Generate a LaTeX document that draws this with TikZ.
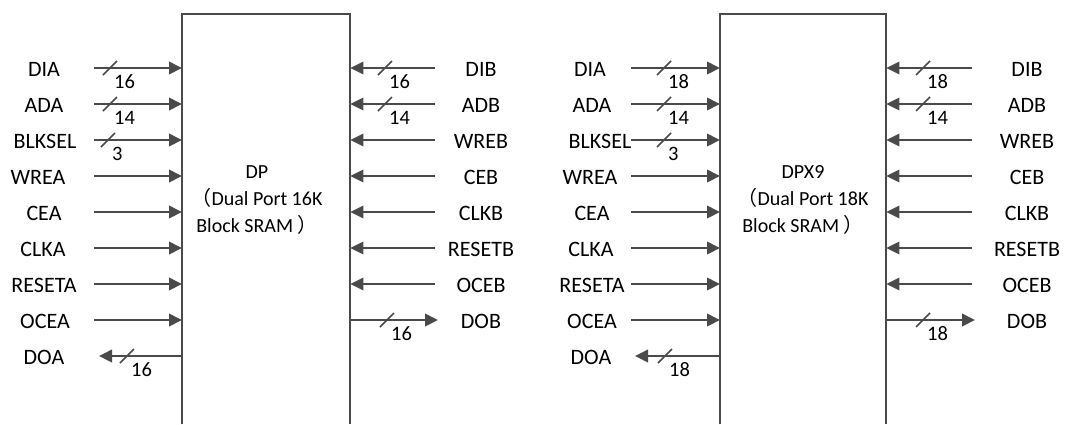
\documentclass[tikz,border=0pt]{standalone}
\usepackage{fontspec}
\setmainfont{Carlito}
\newfontfamily\cjk{Noto Sans CJK SC}
\usetikzlibrary{arrows.meta}
\definecolor{ln}{HTML}{4A4A4A}
\tikzset{
  pin/.style={draw=ln, line width=2pt, -{Triangle[length=13pt,width=12.5pt]}},
  busmark/.style={draw=ln, line width=1.7pt},
  boxline/.style={draw=ln, line width=2.1pt},
  lbl/.style={inner sep=0pt, anchor=base, font=\fontsize{22}{26}\selectfont},
  num/.style={inner sep=0pt, anchor=base west, font=\fontsize{20.5}{24}\selectfont},
  title/.style={inner sep=0pt, align=center, font=\fontsize{20}{27}\selectfont},
}
\begin{document}
\begin{tikzpicture}[x=1pt,y=-1pt]
\useasboundingbox (0,0) rectangle (1072,424);
% ---------- blocks ----------
\node[minimum width=168pt, minimum height=410pt, anchor=north west, inner sep=0pt] (boxA) at (182,14) {};
\node[minimum width=166pt, minimum height=410pt, anchor=north west, inner sep=0pt] (boxB) at (720,14) {};
\draw[boxline] (boxA.south west) -- (boxA.north west) -- (boxA.north east) -- (boxA.south east);
\draw[boxline] (boxB.south west) -- (boxB.north west) -- (boxB.north east) -- (boxB.south east);
\node[title] (tA) at (257,200) {DP\\{\cjk （}Dual Port 16K\\Block SRAM {\cjk ）}};
\node[title] (tB) at (803,200) {DPX9\\{\cjk （}Dual Port 18K\\Block SRAM {\cjk ）}};
% ---------- block A, left inputs ----------
\foreach \n/\y/\lx in {DIA/68/44, ADA/104/44, BLKSEL/140/45, WREA/176/38, CEA/212/44, CLKA/248/43, RESETA/284/44, OCEA/320/45}{
  \node[lbl] (A\n) at (\lx,\y+8) {\n};
  \coordinate (A\n s) at (94,\y);
  \draw[pin] (A\n s) -- (A\n s -| boxA.west);
}
% DOA output
\node[lbl] (ADOA) at (44,364) {DOA};
\coordinate (ADOAe) at (99,356);
\draw[pin] (ADOAe -| boxA.west) -- (ADOAe);
% ---------- block A, right inputs ----------
\foreach \n/\y in {DIB/68, ADB/104, WREB/140, CEB/176, CLKB/212, RESETB/248, OCEB/284}{
  \node[lbl] (A\n) at (481,\y+8) {\n};
  \coordinate (A\n s) at (435,\y);
  \draw[pin] (A\n s) -- (A\n s -| boxA.east);
}
\node[lbl] (ADOB) at (481,328) {DOB};
\coordinate (ADOBe) at (438,320);
\draw[pin] (ADOBe -| boxA.east) -- (ADOBe);
% bus marks block A
\foreach \k/\sx/\y/\w in {1/110/68/16, 2/110/104/14, 3/108/140/3, 4/127/356/16, 5/385/68/16, 6/385/104/14, 7/387/320/16}{
  \draw[busmark] (\sx-7,\y+7) -- (\sx+7,\y-7);
  \node[num] (Anum\k) at (\sx+4,\y+20) {\w};
}
% ---------- block B, left inputs ----------
\foreach \n/\y/\lx in {DIA/68/590, ADA/104/592, BLKSEL/140/600, WREA/176/590, CEA/212/592, CLKA/248/591, RESETA/284/592, OCEA/320/592}{
  \node[lbl] (B\n) at (\lx,\y+8) {\n};
  \coordinate (B\n s) at (631,\y);
  \draw[pin] (B\n s) -- (B\n s -| boxB.west);
}
\node[lbl] (BDOA) at (591,364) {DOA};
\coordinate (BDOAe) at (635,356);
\draw[pin] (BDOAe -| boxB.west) -- (BDOAe);
% ---------- block B, right inputs ----------
\foreach \n/\y in {DIB/68, ADB/104, WREB/140, CEB/176, CLKB/212, RESETB/248, OCEB/284}{
  \node[lbl] (B\n) at (1027,\y+8) {\n};
  \coordinate (B\n s) at (972,\y);
  \draw[pin] (B\n s) -- (B\n s -| boxB.east);
}
\node[lbl] (BDOB) at (1027,328) {DOB};
\coordinate (BDOBe) at (975,320);
\draw[pin] (BDOBe -| boxB.east) -- (BDOBe);
% bus marks block B
\foreach \k/\sx/\y/\w in {1/664/68/18, 2/664/104/14, 3/664/140/3, 4/665/356/18, 5/923/68/18, 6/923/104/14, 7/923/320/18}{
  \draw[busmark] (\sx-7,\y+7) -- (\sx+7,\y-7);
  \node[num] (Bnum\k) at (\sx+4,\y+20) {\w};
}
\end{tikzpicture}
\end{document}
